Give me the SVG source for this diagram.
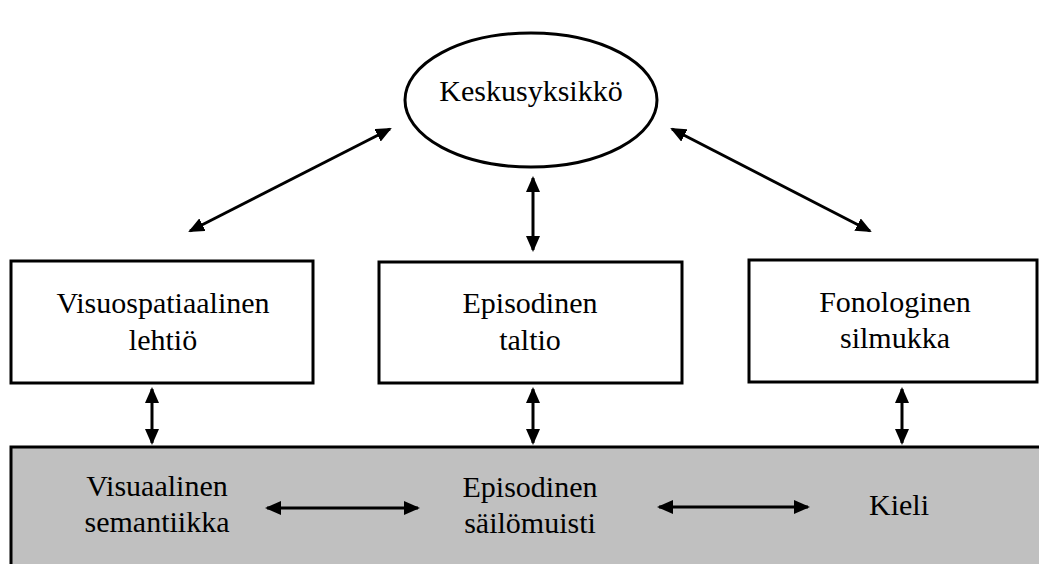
<svg xmlns="http://www.w3.org/2000/svg" width="1039" height="564" viewBox="0 0 1039 564">
<style>
.box{fill:#fff;stroke:#000;stroke-width:3}
.mem{fill:#c0c0c0;stroke:#000;stroke-width:3}
.t{font-family:"Liberation Serif","Times New Roman",serif;font-size:30px;fill:#000;text-anchor:middle}
.c{stroke:#000;stroke-width:3;fill:none;marker-start:url(#ah);marker-end:url(#ah)}
</style>
<defs>
<marker id="ah" markerUnits="userSpaceOnUse" markerWidth="16" markerHeight="14" refX="14" refY="7" orient="auto-start-reverse" viewBox="0 0 16 14">
<path d="M0,0 L16,7 L0,14 Z" fill="#000"/>
</marker>
</defs>
<rect width="1039" height="564" fill="#fff"/>
<g id="memory">
<rect class="mem" x="11" y="447" width="1040" height="130"/>
<text class="t" x="157" y="496">Visuaalinen</text>
<text class="t" x="157" y="532">semantiikka</text>
<text class="t" x="530" y="497">Episodinen</text>
<text class="t" x="530" y="533">säilömuisti</text>
<text class="t" x="899" y="515">Kieli</text>
</g>
<g id="central">
<ellipse cx="531" cy="100" rx="126" ry="67" fill="#fff" stroke="#000" stroke-width="3"/>
<text class="t" x="531" y="101">Keskusyksikkö</text>
</g>
<g id="visuospatial">
<rect class="box" x="11" y="261" width="302" height="122"/>
<text class="t" x="163" y="313">Visuospatiaalinen</text>
<text class="t" x="163" y="350">lehtiö</text>
</g>
<g id="episodic">
<rect class="box" x="379" y="262" width="303" height="121"/>
<text class="t" x="530" y="313">Episodinen</text>
<text class="t" x="530" y="350">taltio</text>
</g>
<g id="phonological">
<rect class="box" x="749" y="260" width="288" height="122"/>
<text class="t" x="895" y="312">Fonologinen</text>
<text class="t" x="895" y="348">silmukka</text>
</g>
<g id="connectors">
<line class="c" x1="190" y1="231" x2="390" y2="129"/>
<line class="c" x1="672" y1="129" x2="870" y2="231"/>
<line class="c" x1="533" y1="178" x2="533" y2="250"/>
<line class="c" x1="152" y1="389" x2="152" y2="443"/>
<line class="c" x1="533" y1="389" x2="533" y2="443"/>
<line class="c" x1="902" y1="389" x2="902" y2="443"/>
<line class="c" x1="267" y1="508" x2="418" y2="508"/>
<line class="c" x1="659" y1="507" x2="808" y2="507"/>
</g>
</svg>
